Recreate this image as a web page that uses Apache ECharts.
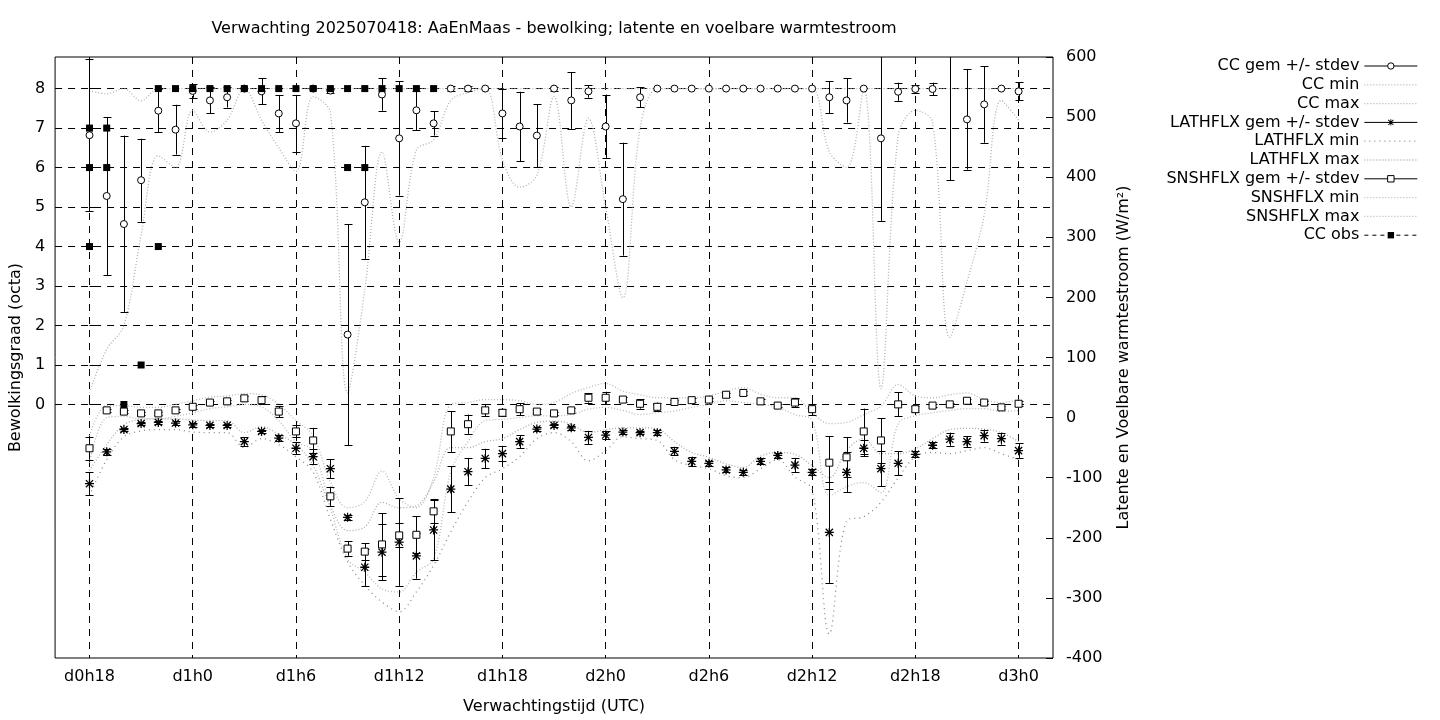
<!DOCTYPE html>
<html>
<head>
<meta charset="utf-8">
<script src="https://cdn.jsdelivr.net/npm/echarts@6/dist/echarts.min.js"></script>
<style>html,body{margin:0;padding:0;background:#fff}#c{width:1440px;height:720px}</style>
</head>
<body>
<div id="c"></div>
<script>
// ---- data (hour offsets from d0h18, 0..54) ----
const ccMean = [6.82,5.28,4.57,5.68,7.44,6.96,7.94,7.70,7.78,8.00,
 7.93,7.37,7.12,8.00,7.95,1.77,5.12,7.85,6.74,7.45,
 7.12,8.00,8.00,8.00,7.37,7.04,6.81,8.00,7.70,7.93,
 7.04,5.20,7.78,8.00,8.00,8.00,8.00,8.00,8.00,8.00,
 8.00,8.00,8.00,7.78,7.70,8.00,6.74,7.92,7.99,7.99,
 9.30,7.22,7.60,8.00,7.93];
const ccSd = [1.93,2.00,2.24,1.05,0.54,0.63,0.17,0.33,0.26,0.00,
 0.33,0.47,0.72,0.00,0.05,2.80,1.43,0.41,1.45,0.50,
 0.31,0.06,0.06,0.00,0.63,0.88,0.80,0.05,0.72,0.16,
 0.81,1.43,0.25,0.00,0.00,0.00,0.00,0.00,0.00,0.00,
 0.00,0.00,0.00,0.40,0.56,0.00,2.09,0.23,0.10,0.16,
 3.62,1.27,0.97,0.00,0.23];
const ccMin = [0.30,1.40,2.00,4.30,6.30,6.00,7.45,6.90,7.20,8.00,
 7.20,6.50,5.90,7.80,7.40,0.30,2.90,6.40,4.10,6.45,
 6.70,7.70,7.90,8.00,6.20,5.50,5.80,7.80,5.00,7.25,
 5.00,2.70,7.00,8.00,8.00,8.00,8.00,8.00,8.00,8.00,
 8.00,8.00,8.00,6.40,6.00,8.00,0.40,6.80,7.45,7.15,
 1.70,3.10,4.80,7.70,7.20];
const ccMax = [7.94,7.87,8.00,7.69,8.00,8.00,8.00,8.00,8.00,8.00,
 8.00,8.00,8.00,8.00,8.00,8.00,8.00,8.00,8.00,8.00,
 8.00,8.00,8.00,8.00,8.00,8.00,8.00,8.00,8.00,8.00,
 8.00,8.00,8.00,8.00,8.00,8.00,8.00,8.00,8.00,8.00,
 8.00,8.00,8.00,8.00,8.00,8.00,8.00,8.00,8.00,8.00,
 8.00,8.00,8.00,8.00,8.00];
const ccObsHours  = [0,0,0,1,1,2,3,4,4,5,6,7,8,9,10,11,12,13,14,15,15,16,16,17,18,19,20];
const ccObsValues = [7,6,4,7,6,0,1,8,4,8,8,8,8,8,8,8,8,8,8,8,6,8,6,8,8,8,8];

const lathMean = [-110,-57,-20,-10,-8,-9,-12,-13,-13,-40,
 -23,-34,-51,-65,-85,-166,-249,-224,-207,-230,
 -187,-119,-90,-68,-60,-40,-19,-13,-17,-33,
 -29,-24,-25,-25,-56,-73,-76,-87,-91,-73,
 -63,-79,-91,-191,-91,-51,-85,-76,-61,-46,
 -36,-40,-30,-35,-55];
const lathSd = [19,5,3,3,3,3,3,3,3,7,
 3,5,10,13,16,4,31,47,73,38,
 50,38,22,16,13,11,4,3,3,11,
 6,3,3,4,7,8,4,4,4,5,
 4,12,5,84,33,13,29,20,5,5,
 11,9,10,10,12];
const lathMin = [-130,-70,-32,-22,-20,-20,-24,-25,-25,-50,
 -35,-45,-65,-91,-169,-240,-279,-307,-323,-290,
 -246,-190,-140,-100,-85,-65,-35,-25,-40,-72,
 -55,-32,-35,-38,-70,-80,-85,-97,-100,-85,
 -70,-99,-120,-360,-172,-165,-141,-100,-65,-58,
 -60,-55,-50,-60,-70];
const lathMax = [-88,-45,-12,-3,-2,-2,-4,-5,-5,-25,
 -15,-28,-45,-80,-147,-188,-182,-141,-150,-147,
 -107,-50,-50,-40,-35,-20,-8,-6,-11,-25,
 -20,-17,-17,-19,-40,-58,-66,-77,-83,-64,
 -58,-61,-80,-100,-55,-35,-60,-60,-52,-35,
 -20,-18,-19,-25,-40];

const snshMean = [-51,12,10,7,7,12,18,25,27,32,
 29,10,-23,-38,-131,-218,-223,-211,-196,-195,
 -156,-23,-11,12,8,14,10,7,12,33,
 33,30,23,18,26,29,30,38,41,27,
 20,25,14,-75,-66,-23,-38,22,14,20,
 22,28,25,17,23];
const snshSd = [19,3,3,3,3,3,3,3,3,4,
 7,9,10,21,16,12,14,52,20,31,
 20,34,16,10,6,10,4,3,4,8,
 10,4,8,7,4,3,3,3,3,4,
 3,8,9,44,33,38,37,20,5,3,
 3,3,3,3,4];
const snshMin = [-75,0,2,-2,-2,2,8,15,18,22,
 18,-5,-40,-55,-150,-235,-257,-285,-290,-257,
 -235,-90,-40,-5,-3,0,3,3,5,14,
 17,12,5,8,11,17,22,28,25,22,
 17,5,-5,-130,-115,-108,-125,-10,3,8,
 12,15,15,10,12];
const snshMax = [-30,20,20,17,17,22,28,34,36,40,
 38,22,-5,-30,-107,-150,-140,-89,-135,-150,
 -100,22,25,30,30,28,22,25,40,50,
 57,44,38,33,33,33,36,44,50,39,
 33,33,8,-10,-8,5,19,55,36,33,
 38,41,30,25,30];

const xTickHours  = [0,6,12,18,24,30,36,42,48,54];
const xTickLabels = ['d0h18','d1h0','d1h6','d1h12','d1h18','d2h0','d2h6','d2h12','d2h18','d3h0'];
const yTickValues = [0,1,2,3,4,5,6,7,8];
const y2Ticks = {min:-400, max:600, interval:100};

// ---- helpers ----
const FONT = 'DejaVu Sans';
const FS = 16;
const pairs = (arr) => arr.map((v, i) => [i, v]);
const triples = (m, s) => m.map((v, i) => [i, v, s[i]]);

function errorBar(params, api) {
  const x = api.value(0), m = api.value(1), s = api.value(2);
  if (!(s > 0)) return null;
  const cs = params.coordSys;
  const top = api.coord([x, m + s]);
  const bot = api.coord([x, m - s]);
  const yTop = cs.y, yBot = cs.y + cs.height;
  const y1 = Math.max(yTop, top[1]), y2 = Math.min(yBot, bot[1]);
  if (y2 <= y1) return null;
  const px = Math.round(top[0]) + 0.5;
  const st = {stroke: '#000', lineWidth: 1};
  const ch = [{type: 'line', shape: {x1: px, y1: y1, x2: px, y2: y2}, style: st}];
  if (top[1] >= yTop) { const yy = Math.round(top[1]) + 0.5; ch.push({type: 'line', shape: {x1: px - 4, y1: yy, x2: px + 4, y2: yy}, style: st}); }
  if (bot[1] <= yBot) { const yy = Math.round(bot[1]) + 0.5; ch.push({type: 'line', shape: {x1: px - 4, y1: yy, x2: px + 4, y2: yy}, style: st}); }
  return {type: 'group', children: ch};
}
function errSeries(name, m, s, yAxisIndex) {
  return {name: name, type: 'custom', xAxisIndex: 0, yAxisIndex: yAxisIndex,
    renderItem: errorBar, data: triples(m, s), encode: {x: 0, y: [1]}, silent: true, z: 3};
}
function pointSeries(name, m, yAxisIndex, symbol, size, fill, border) {
  return {name: name, type: 'line', yAxisIndex: yAxisIndex, data: pairs(m), symbol: symbol, symbolSize: size,
    showAllSymbol: true, lineStyle: {opacity: 0}, itemStyle: {color: fill, borderColor: '#000', borderWidth: border},
    clip: true, silent: true, z: 4};
}
function rangeSeries(name, arr, yAxisIndex, color, dash) {
  return {name: name, type: 'line', yAxisIndex: yAxisIndex, data: pairs(arr), symbol: 'none', smooth: 0.35,
    lineStyle: {color: color, width: 1.3, type: dash}, itemStyle: {color: color}, clip: true, silent: true, z: 2};
}
const ASTER = 'path://M0,8.6L20,8.6L20,11.4L0,11.4Z M8.6,0L11.4,0L11.4,20L8.6,20Z M1.0,3.0L3.0,1.0L19.0,17.0L17.0,19.0Z M17.0,1.0L19.0,3.0L3.0,19.0L1.0,17.0Z';

const cMinMax = '#b0b0b0', lMin = '#8a8a8a', lMax = '#aaaaaa', sMM = '#b8b8b8';

const series = [
  errSeries('ccErr', ccMean, ccSd, 0),
  pointSeries('CC gem +/- stdev', ccMean, 0, 'circle', 7, '#fff', 1),
  rangeSeries('CC min', ccMin, 0, cMinMax, [1, 2]),
  rangeSeries('CC max', ccMax, 0, cMinMax, [1, 2]),
  errSeries('lathErr', lathMean, lathSd, 1),
  pointSeries('LATHFLX gem +/- stdev', lathMean, 1, ASTER, 9, '#000', 0),
  rangeSeries('LATHFLX min', lathMin, 1, lMin, [1, 4]),
  rangeSeries('LATHFLX max', lathMax, 1, lMax, [1, 2]),
  errSeries('snshErr', snshMean, snshSd, 1),
  pointSeries('SNSHFLX gem +/- stdev', snshMean, 1, 'rect', 7, '#fff', 1),
  rangeSeries('SNSHFLX min', snshMin, 1, sMM, [1, 2]),
  rangeSeries('SNSHFLX max', snshMax, 1, sMM, [1, 2]),
  {name: 'CC obs', type: 'line', yAxisIndex: 0, data: ccObsHours.map((h, i) => [h, ccObsValues[i]]),
   symbol: 'rect', symbolSize: 7, showAllSymbol: true, lineStyle: {opacity: 0},
   itemStyle: {color: '#000', borderWidth: 0}, clip: true, silent: true, z: 5}
];

const solidLeg = {opacity: 1, color: '#000', width: 1, type: 'solid'};
const legendData = [
  {name: 'CC gem +/- stdev', lineStyle: solidLeg, itemStyle: {color: '#fff', borderColor: '#000', borderWidth: 1}},
  {name: 'CC min', itemStyle: {opacity: 0}, lineStyle: {width: 1.3}},
  {name: 'CC max', itemStyle: {opacity: 0}, lineStyle: {width: 1.3}},
  {name: 'LATHFLX gem +/- stdev', lineStyle: solidLeg, itemStyle: {color: '#000', borderWidth: 0}},
  {name: 'LATHFLX min', itemStyle: {opacity: 0}, lineStyle: {width: 1.3}},
  {name: 'LATHFLX max', itemStyle: {opacity: 0}, lineStyle: {width: 1.3}},
  {name: 'SNSHFLX gem +/- stdev', lineStyle: solidLeg, itemStyle: {color: '#fff', borderColor: '#000', borderWidth: 1}},
  {name: 'SNSHFLX min', itemStyle: {opacity: 0}, lineStyle: {width: 1.3}},
  {name: 'SNSHFLX max', itemStyle: {opacity: 0}, lineStyle: {width: 1.3}},
  {name: 'CC obs', lineStyle: {opacity: 1, color: '#000', width: 1, type: [4, 4]}, itemStyle: {color: '#000', borderWidth: 0}}
];

const gridDash = {show: true, lineStyle: {color: '#000', width: 1, type: [7, 6]}};
const txt = {color: '#000', fontFamily: FONT, fontSize: FS};

const option = {
  animation: false,
  backgroundColor: '#fff',
  textStyle: {fontFamily: FONT},
  title: {text: 'Verwachting 2025070418: AaEnMaas - bewolking; latente en voelbare warmtestroom',
    left: 549, top: 16, textAlign: 'center', textStyle: Object.assign({fontWeight: 'normal'}, txt)},
  legend: {orient: 'vertical', right: 22, top: 57, align: 'right', itemWidth: 53, itemHeight: 8, itemGap: 0.8,
    textStyle: Object.assign({lineHeight: 18}, txt), data: legendData, selectedMode: false, padding: 0},
  grid: {left: 55, top: 57, width: 998, height: 602, show: true, borderColor: '#000', borderWidth: 1, backgroundColor: 'transparent'},
  xAxis: {type: 'value', min: -2, max: 56,
    name: 'Verwachtingstijd (UTC)', nameLocation: 'middle', nameGap: 41, nameTextStyle: txt,
    axisLine: {show: false}, splitLine: gridDash,
    axisTick: {show: true, inside: true, length: 7, customValues: xTickHours, lineStyle: {color: '#000'}},
    axisLabel: {customValues: xTickHours, margin: 11, color: '#000', fontFamily: FONT, fontSize: FS,
      formatter: (v) => xTickLabels[xTickHours.indexOf(v)]}},
  yAxis: [
    {type: 'value', min: -6.42, max: 8.8, position: 'left',
     name: 'Bewolkingsgraad (octa)', nameLocation: 'middle', nameRotate: 90, nameGap: 29, nameTextStyle: txt,
     axisLine: {show: false}, splitLine: gridDash,
     axisTick: {show: true, inside: true, length: 7, customValues: yTickValues, lineStyle: {color: '#000'}},
     axisLabel: {customValues: yTickValues, margin: 10, color: '#000', fontFamily: FONT, fontSize: FS, formatter: (v) => String(v)}},
    {type: 'value', min: y2Ticks.min, max: y2Ticks.max, interval: y2Ticks.interval, position: 'right',
     name: 'Latente en Voelbare warmtestroom (W/m²)', nameLocation: 'middle', nameRotate: 90, nameGap: 63, nameTextStyle: txt,
     axisLine: {show: false}, splitLine: {show: false},
     axisTick: {show: true, inside: true, length: 7, lineStyle: {color: '#000'}},
     axisLabel: {margin: 13, color: '#000', fontFamily: FONT, fontSize: FS}}
  ],
  series: series
};

const chart = echarts.init(document.getElementById('c'), null, {renderer: 'canvas'});
chart.setOption(option);
</script>
</body>
</html>
